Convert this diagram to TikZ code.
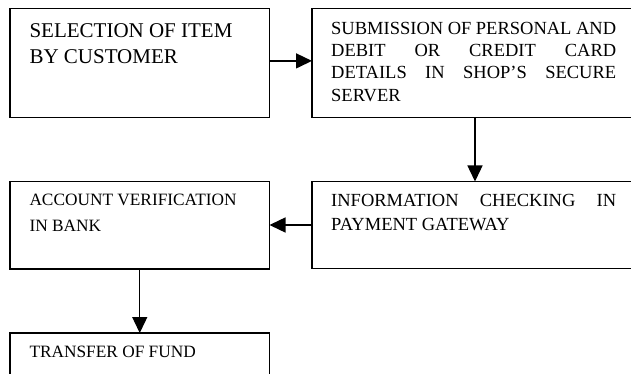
\documentclass[tikz,border=0pt]{standalone}
\usepackage{fontspec}
\setmainfont{Liberation Serif}
\usetikzlibrary{arrows.meta,calc}
\tikzset{
  box/.style={draw=black, line width=1.2pt, rectangle, inner sep=0pt, outer sep=0pt, anchor=north west},
  flow/.style={line width=1.4pt, -{Triangle[length=16pt,width=15pt]}},
  big/.style={anchor=base west, inner sep=0pt, font=\fontsize{21}{25}\selectfont},
  mid/.style={anchor=base west, inner sep=0pt, font=\fontsize{18.5}{22}\selectfont},
  sml/.style={anchor=base west, inner sep=0pt, font=\fontsize{17.3}{20}\selectfont},
}
\begin{document}
\begin{tikzpicture}[x=1pt,y=-1pt]
\useasboundingbox (0,0) rectangle (631,374);
\clip (0,0) rectangle (631,374);
% boxes
\node[box, minimum width=259.5pt, minimum height=108.8pt] (b1) at (10,8.5) {};
\node[box, minimum width=400pt, minimum height=108.8pt] (b2) at (312,8.5) {};
\node[box, minimum width=400pt, minimum height=87pt] (b4) at (312,181.5) {};
\node[box, minimum width=259.5pt, minimum height=87.5pt] (b3) at (10,181.5) {};
\node[box, minimum width=259.5pt, minimum height=120pt] (b5) at (10,333) {};
% texts
\node[big] (t1a) at (29.3,37.3) {SELECTION OF ITEM};
\node[big] (t1b) at (29.3,63.3) {BY CUSTOMER};
\node[mid] (t2a) at (331,35) {\makebox[285pt][s]{SUBMISSION OF PERSONAL AND}};
\node[mid] (t2b) at (331,57) {\makebox[285pt][s]{DEBIT OR CREDIT CARD}};
\node[mid] (t2c) at (331,79) {\makebox[285pt][s]{DETAILS IN SHOP’S SECURE}};
\node[mid] (t2d) at (331,101.5) {SERVER};
\node[mid] (t4a) at (331,206.7) {\makebox[285pt][s]{INFORMATION CHECKING IN}};
\node[mid] (t4b) at (331,230) {PAYMENT GATEWAY};
\node[sml] (t3a) at (29.3,205.3) {ACCOUNT VERIFICATION};
\node[sml] (t3b) at (29.3,231.7) {IN BANK};
\node[sml] (t5a) at (29.3,357.3) {TRANSFER OF FUND};
% connectors
\draw[flow] ([yshift=2pt]b1.east) -- ([yshift=2pt]b1.east -| b2.west);
\draw[flow] ([xshift=163pt]b2.south west) -- ([xshift=163pt]b4.north west);
\draw[flow] (b4.west) -- (b4.west -| b3.east);
\draw[flow] (b3.south) -- (b5.north);
\end{tikzpicture}
\end{document}
